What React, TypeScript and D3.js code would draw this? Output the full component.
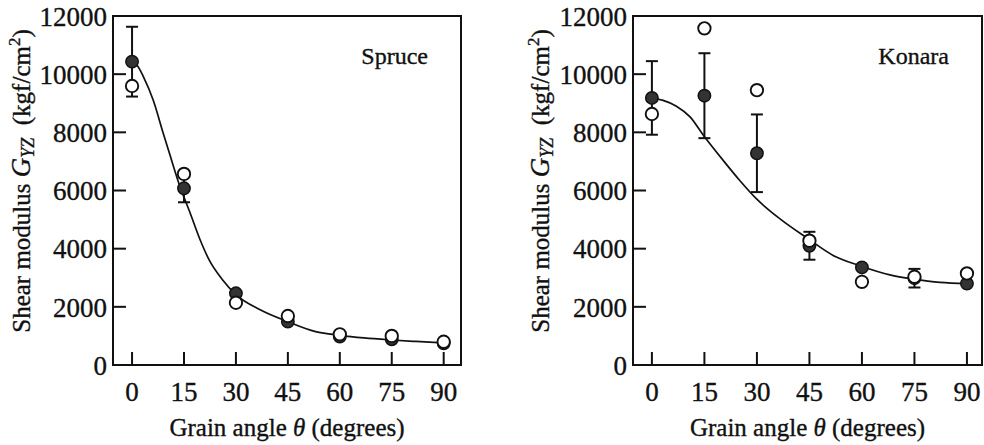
import React from 'react';
import * as d3 from 'd3';

// grain angle categories (degrees)
const angles = [0, 15, 30, 45, 60, 75, 90];
const yTicks = [0, 2000, 4000, 6000, 8000, 10000, 12000];

// Spruce: filled / open markers, error (± on filled), fitted curve
const spruceFilled = [10430, 6075, 2465, 1490, 975, 885, 745];
const spruceOpen = [9594, 6570, 2140, 1685, 1055, 1000, 800];
const spruceErr = [1200, 480, 0, 0, 0, 0, 0];
const spruceCurveX = [0, 1.5, 3.3, 6.1, 9, 11, 13.8, 16.7, 19.5, 22.5, 26, 30, 37, 45, 53, 60, 67, 75, 82, 90];
const spruceCurveY = [10430, 10300, 9910, 9110, 7970, 7200, 6150, 5250, 4350, 3560, 2950, 2420, 1900, 1490, 1150, 1020, 930, 860, 810, 760];

// Konara
const konaraFilled = [9183, 9260, 7280, 4100, 3355, 2985, 2800];
const konaraOpen = [8630, 11575, 9450, 4275, 2860, 3035, 3150];
const konaraErr = [1265, 1460, 1335, 480, 0, 320, 0];
const konaraCurveX = [0, 3.2, 7, 10.9, 14.7, 20.4, 25.1, 29.9, 36.6, 44.3, 51.9, 59.4, 68, 74.7, 82.3, 90];
const konaraCurveY = [9180, 9100, 8900, 8530, 7900, 7030, 6345, 5710, 5025, 4370, 3760, 3415, 3100, 2955, 2840, 2800];

const FONT = '"Liberation Serif", "Times New Roman", serif';
const INK = '#111';

type PanelProps = {
  left: number;
  right: number;
  xDomain: [number, number];
  labelX: number;
  name: string;
  filled: number[];
  open: number[];
  err: number[];
  curveX: number[];
  curveY: number[];
};

const Panel = ({ left, right, xDomain, labelX, name, filled, open, err, curveX, curveY }: PanelProps) => {
  const top = 16;
  const bottom = 365;
  const x = d3.scaleLinear().domain(xDomain).range([left, right]);
  const y = d3.scaleLinear().domain([0, 12000]).range([bottom, top]);
  const line = d3.line<number>()
    .x((d, i) => x(curveX[i]))
    .y(d => y(d))
    .curve(d3.curveMonotoneX);
  const tickLen = 13;
  const r = 6.2;
  const cap = 6;
  const txt = { fontFamily: FONT, fill: INK, stroke: INK, strokeWidth: 0.35 };

  return (
    <g>
      {/* error bars */}
      {angles.map((a, i) => err[i] > 0 && (
        <g key={'e' + a} stroke={INK} strokeWidth={2}>
          <line x1={x(a)} x2={x(a)} y1={y(filled[i] + err[i])} y2={y(filled[i] - err[i])} />
          <line x1={x(a) - cap} x2={x(a) + cap} y1={y(filled[i] + err[i])} y2={y(filled[i] + err[i])} />
          <line x1={x(a) - cap} x2={x(a) + cap} y1={y(filled[i] - err[i])} y2={y(filled[i] - err[i])} />
        </g>
      ))}
      <path d={line(curveY) || ''} fill="none" stroke={INK} strokeWidth={1.7} />
      {angles.map((a, i) => (
        <circle key={'f' + a} cx={x(a)} cy={y(filled[i])} r={r} fill="#333" stroke={INK} strokeWidth={1.5} />
      ))}
      {angles.map((a, i) => (
        <circle key={'o' + a} cx={x(a)} cy={y(open[i])} r={r} fill="#fff" stroke={INK} strokeWidth={1.9} />
      ))}

      {/* frame */}
      <rect x={left} y={top} width={right - left} height={bottom - top} fill="none" stroke={INK} strokeWidth={2} />

      {/* ticks */}
      {angles.map(a => (
        <g key={'xt' + a}>
          <line x1={x(a)} x2={x(a)} y1={bottom} y2={bottom - tickLen} stroke={INK} strokeWidth={2} />
          <text x={x(a)} y={401} textAnchor="middle" fontSize={27} {...txt}>{a}</text>
        </g>
      ))}
      {yTicks.map(t => (
        <g key={'yt' + t}>
          {t > 0 && t < 12000 && (
            <line x1={left} x2={left + tickLen} y1={y(t)} y2={y(t)} stroke={INK} strokeWidth={2} />
          )}
          <text x={left - 6} y={y(t)} dy="0.36em" textAnchor="end" fontSize={27} {...txt}>{t}</text>
        </g>
      ))}

      {/* labels */}
      <text x={(left + right) / 2} y={436} textAnchor="middle" fontSize={25} {...txt}>
        Grain angle <tspan fontStyle="italic">θ</tspan> (degrees)
      </text>
      <text transform={`translate(${labelX},181) rotate(-90)`} textAnchor="middle" fontSize={25} {...txt}>
        Shear modulus <tspan fontStyle="italic" fontSize={27}>G</tspan><tspan fontStyle="italic" fontSize={18} dy="4">YZ</tspan>
        <tspan dy="-4">{'\u00a0\u00a0'}(kgf/cm</tspan><tspan fontSize={17} dy="-10">2</tspan><tspan dy="10">)</tspan>
      </text>
      <text x={right - 33} y={64} textAnchor="end" fontSize={24} {...txt}>{name}</text>
    </g>
  );
};

export default function App() {
  return (
    <svg width={984} height={445} style={{ position: 'absolute', left: 0, top: 0, background: '#fff' }}>
      <rect width={984} height={445} fill="#fff" />
      <Panel left={113} right={461} xDomain={[-5.5, 95]} labelX={30} name="Spruce"
        filled={spruceFilled} open={spruceOpen} err={spruceErr} curveX={spruceCurveX} curveY={spruceCurveY} />
      <Panel left={633} right={982} xDomain={[-5.4, 94.3]} labelX={549} name="Konara"
        filled={konaraFilled} open={konaraOpen} err={konaraErr} curveX={konaraCurveX} curveY={konaraCurveY} />
    </svg>
  );
}
